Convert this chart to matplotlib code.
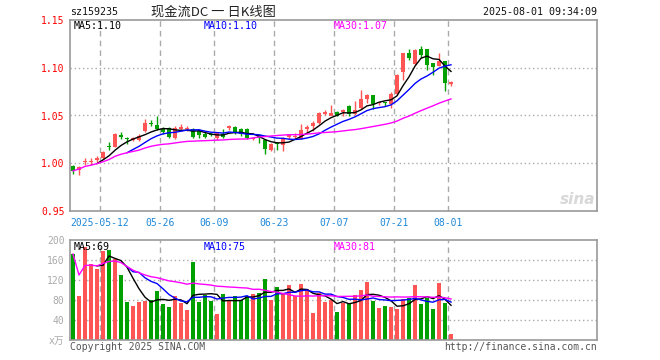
import matplotlib
matplotlib.use("Agg")
import matplotlib.pyplot as plt
import numpy as np
import pandas as pd

# ---------------- data ----------------
holidays = ['2025-05-01', '2025-05-02', '2025-05-05', '2025-06-02']
dates = pd.bdate_range('2025-04-30', '2025-08-01').drop(pd.to_datetime(holidays))

opens = [0.997, 0.993, 1.001, 1.001, 1.003, 1.0055, 1.018, 1.017, 1.030, 1.026,
         1.024, 1.024, 1.034, 1.042, 1.0405, 1.036, 1.037, 1.026, 1.036, 1.036,
         1.036, 1.034, 1.031, 1.031, 1.026, 1.031, 1.037, 1.038, 1.036, 1.036,
         1.025, 1.030, 1.024, 1.014, 1.021, 1.019, 1.028, 1.028, 1.025, 1.036,
         1.039, 1.042, 1.052, 1.050, 1.0535, 1.054, 1.060, 1.0515, 1.058, 1.067,
         1.071, 1.063, 1.064, 1.062, 1.072, 1.0955, 1.1155, 1.1035, 1.120, 1.1196,
         1.1047, 1.1018, 1.107, 1.0827]
highs = [0.998, 0.997, 1.006, 1.005, 1.008, 1.0125, 1.022, 1.032, 1.033, 1.028,
         1.027, 1.0305, 1.046, 1.045, 1.0495, 1.038, 1.038, 1.039, 1.041, 1.039,
         1.037, 1.036, 1.033, 1.032, 1.033, 1.036, 1.040, 1.039, 1.037, 1.037,
         1.028, 1.031, 1.025, 1.021, 1.022, 1.027, 1.031, 1.032, 1.041, 1.040,
         1.0445, 1.054, 1.056, 1.061, 1.055, 1.0565, 1.0605, 1.065, 1.077, 1.073,
         1.0715, 1.0645, 1.0645, 1.075, 1.0935, 1.1158, 1.120, 1.120, 1.1225, 1.1196,
         1.1047, 1.1158, 1.107, 1.0861]
lows = [0.989, 0.988, 0.998, 0.998, 1.001, 1.0045, 1.014, 1.0165, 1.025, 1.020,
        1.023, 1.0235, 1.033, 1.039, 1.035, 1.031, 1.026, 1.025, 1.034, 1.034,
        1.026, 1.026, 1.026, 1.029, 1.024, 1.026, 1.035, 1.031, 1.029, 1.025,
        1.024, 1.021, 1.010, 1.013, 1.014, 1.013, 1.025, 1.025, 1.025, 1.0315,
        1.034, 1.0415, 1.050, 1.050, 1.049, 1.0495, 1.049, 1.050, 1.0565, 1.0635,
        1.057, 1.061, 1.060, 1.058, 1.0715, 1.087, 1.108, 1.103, 1.110, 1.0977,
        1.0924, 1.1015, 1.0757, 1.081]
closes = [0.992, 0.996, 1.002, 1.002, 1.006, 1.0115, 1.0175, 1.031, 1.027, 1.025,
          1.026, 1.029, 1.0425, 1.041, 1.036, 1.033, 1.028, 1.037, 1.038, 1.037,
          1.028, 1.030, 1.028, 1.030, 1.032, 1.028, 1.039, 1.032, 1.031, 1.026,
          1.026, 1.026, 1.015, 1.020, 1.020, 1.026, 1.030, 1.029, 1.035, 1.0375,
          1.042, 1.0525, 1.0535, 1.053, 1.050, 1.0555, 1.0515, 1.0555, 1.067, 1.071,
          1.062, 1.064, 1.063, 1.072, 1.092, 1.115, 1.1105, 1.119, 1.1134, 1.1029,
          1.1011, 1.107, 1.0844, 1.0854]
volumes = [172, 88, 187, 152, 142, 178, 181, 163, 130, 76,
           68, 76, 78, 81, 98, 73, 67, 88, 75, 60,
           157, 77, 90, 79, 53, 92, 81, 88, 81, 88,
           92, 95, 122, 80, 106, 93, 110, 88, 112, 102,
           55, 95, 77, 80, 57, 75, 73, 90, 100, 116,
           78, 64, 68, 66, 62, 82, 85, 110, 72, 85,
           62, 114, 74, 12]

tick_dates = ['2025-05-12', '2025-05-26', '2025-06-09', '2025-06-23',
              '2025-07-07', '2025-07-21', '2025-08-01']
tick_labels = ['2025-05-12', '05-26', '06-09', '06-23', '07-07', '07-21', '08-01']
price_ticks = [0.95, 1.00, 1.05, 1.10, 1.15]
price_tick_labels = ['0.95', '1.00', '1.05', '1.10', '1.15']
vol_ticks = [0, 40, 80, 120, 160, 200]
vol_tick_labels = ['x万', '40', '80', '120', '160', '200']

code = 'sz159235'
title = '现金流DC 一 日K线图'
stamp = '2025-08-01 09:34:09'
price_ma_labels = ['MA5:1.10', 'MA10:1.10', 'MA30:1.07']
vol_ma_labels = ['MA5:69', 'MA10:75', 'MA30:81']
copyright_text = 'Copyright 2025 SINA.COM'
url_text = 'http://finance.sina.com.cn'

# ---------------- styling ----------------
RED = '#ff5555'
GREEN = '#00a000'
MA_COLORS = ['#000000', '#0000ff', '#ff00ff']
GRID = '#aaaaaa'
FRAME = '#999999'
MONO = 'DejaVu Sans Mono'
W, H = 660, 360

def fx(px):
    return px / W

def fy(py):
    return 1 - py / H

fig = plt.figure(figsize=(6.6, 3.6), dpi=100)
fig.patch.set_facecolor('white')

ax = fig.add_axes([fx(70), fy(211), fx(597) - fx(70), fy(20) - fy(211)])
axv = fig.add_axes([fx(70), fy(340), fx(597) - fx(70), fy(240) - fy(340)])

o = np.array(opens); h = np.array(highs); l = np.array(lows); c = np.array(closes)
v = np.array(volumes)
idx = np.arange(len(c))
up = c >= o
cols = np.where(up, RED, GREEN)

xmin, xmax = -0.5, 87.33
tick_pos = [dates.get_loc(pd.Timestamp(d)) - 0.5 for d in tick_dates]

for a in (ax, axv):
    a.set_xlim(xmin, xmax)
    for s in a.spines.values():
        s.set_color(FRAME)
        s.set_linewidth(1.2)
    for p in tick_pos:
        a.axvline(p, color=GRID, lw=1, ls=(0, (4, 3)), zorder=0)

# price panel
ax.set_ylim(0.95, 1.15)
for t in price_ticks[1:-1]:
    ax.axhline(t, color=GRID, lw=1, ls=(0, (1, 2)), zorder=0)

ax.vlines(idx, l, h, colors=cols, lw=1, zorder=2)
body_bottom = np.minimum(o, c)
body_h = np.maximum(np.abs(c - o), 0.0009)
ax.bar(idx, body_h, bottom=body_bottom, width=0.82, color=cols, lw=0, zorder=3)

cs = pd.Series(c)
ma_price = [cs.rolling(5, min_periods=5).mean(),
            cs.rolling(10, min_periods=10).mean(),
            cs.rolling(30, min_periods=1).mean()]
for m, col in zip(ma_price, MA_COLORS):
    ax.plot(idx, m, color=col, lw=1, zorder=4)

ax.set_yticks(price_ticks)
ax.set_yticklabels(price_tick_labels, fontfamily=MONO, fontsize=7, color='#ff0000')
ax.set_xticks(tick_pos)
ax.set_xticklabels(tick_labels, fontfamily=MONO, fontsize=7, color='#1e88d8')
ax.tick_params(axis='both', length=0)
ax.tick_params(axis='y', pad=4)
ax.tick_params(axis='x', pad=5)

# volume panel
axv.set_ylim(0, 200)
for t in vol_ticks[1:-1]:
    axv.axhline(t, color=GRID, lw=1, ls=(0, (1, 2)), zorder=0)
axv.bar(idx, v, width=0.82, color=cols, lw=0, zorder=2)
vs = pd.Series(v, dtype=float)
ma_vol = [vs.rolling(5, min_periods=5).mean(),
          vs.rolling(10, min_periods=10).mean(),
          vs.rolling(30, min_periods=1).mean()]
for m, col in zip(ma_vol, MA_COLORS):
    axv.plot(idx, m, color=col, lw=1, zorder=4)
axv.set_xticks([])
axv.set_yticks(vol_ticks)
axv.set_yticklabels(vol_tick_labels, fontsize=7, color='#aaaaaa',
                    fontfamily=[MONO, 'Noto Sans CJK SC'])
axv.tick_params(axis='y', length=0, pad=4)

# texts
fig.text(fx(70), fy(12), code, fontfamily=MONO, fontsize=7.2, va='center', ha='left', color='#111111')
fig.text(fx(213), fy(12), title, fontfamily=['Noto Sans CJK SC', 'DejaVu Sans'], fontsize=9.5,
         va='center', ha='center', color='#222222')
fig.text(fx(597), fy(12), stamp, fontfamily=MONO, fontsize=7.2, va='center', ha='right', color='#111111')

for lab, col, xp in zip(price_ma_labels, MA_COLORS, [74, 204, 334]):
    fig.text(fx(xp), fy(26), lab, fontfamily=MONO, fontsize=7.2, va='center', ha='left', color=col)
for lab, col, xp in zip(vol_ma_labels, MA_COLORS, [74, 204, 334]):
    fig.text(fx(xp), fy(246.5), lab, fontfamily=MONO, fontsize=7.2, va='center', ha='left', color=col)

fig.text(fx(70), fy(347), copyright_text, fontfamily=MONO, fontsize=7, va='center', ha='left', color='#555555')
fig.text(fx(597), fy(347), url_text, fontfamily=MONO, fontsize=7, va='center', ha='right', color='#555555')

fig.text(fx(595), fy(200), 'sina', fontsize=11, fontweight='bold', style='italic',
         color='#d8d8d8', va='center', ha='right', zorder=1)

fig.savefig('out.png', dpi=100, facecolor='white')
